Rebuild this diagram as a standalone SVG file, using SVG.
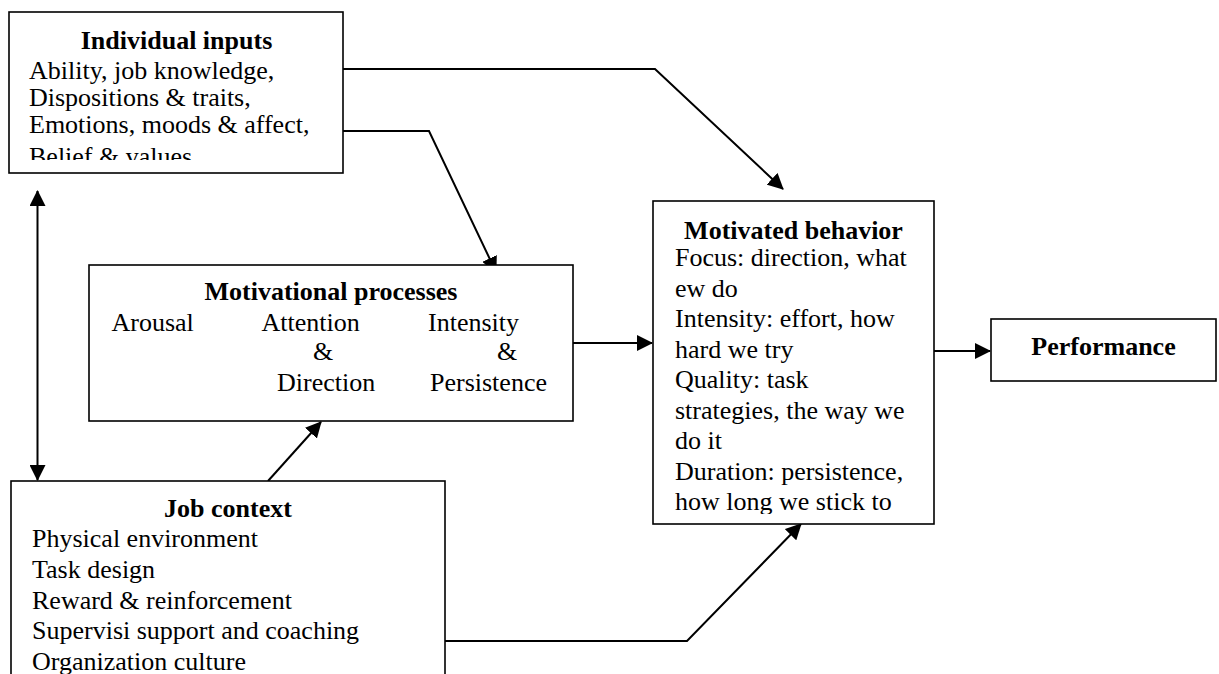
<svg xmlns="http://www.w3.org/2000/svg" width="1219" height="674" viewBox="0 0 1219 674">
<style>
.box{fill:#fff;stroke:#000;stroke-width:1.6}
.t{font-family:"Liberation Serif","Times New Roman",serif;font-size:26px;fill:#000}
.b{font-weight:bold}
.c{text-anchor:middle}
.ln{fill:none;stroke:#000;stroke-width:2}
</style>
<defs>
<marker id="ah" markerUnits="userSpaceOnUse" markerWidth="16" markerHeight="16" refX="15" refY="8" orient="auto-start-reverse" viewBox="0 0 16 16">
<path d="M0,0 L16,8 L0,16 z" fill="#000"/>
</marker>
<clipPath id="c1"><rect x="10" y="13" width="332" height="147"/></clipPath>
<clipPath id="c3"><rect x="654" y="202" width="279" height="312"/></clipPath>
</defs>
<rect width="1219" height="674" fill="#fff"/>
<g id="connectors">
<polyline class="ln" points="343,69 655,69 783,189" marker-end="url(#ah)"/>
<polyline class="ln" points="343,131 429,131 496,272" marker-end="url(#ah)"/>
<line class="ln" x1="573" y1="343" x2="652" y2="343" marker-end="url(#ah)"/>
<line class="ln" x1="934" y1="351" x2="990" y2="351" marker-end="url(#ah)"/>
<line class="ln" x1="37.5" y1="191" x2="37.5" y2="480" marker-start="url(#ah)" marker-end="url(#ah)"/>
<line class="ln" x1="268" y1="481" x2="321" y2="422" marker-end="url(#ah)"/>
<polyline class="ln" points="445,641 687,641 801,524" marker-end="url(#ah)"/>
</g>
<g id="individual-inputs">
<rect class="box" x="9" y="12" width="334" height="161"/>
<text class="t b c" x="176.5" y="48.5">Individual inputs</text>
<g clip-path="url(#c1)">
<text class="t" x="29" y="79">Ability, job knowledge,</text>
<text class="t" x="29" y="106">Dispositions &amp; traits,</text>
<text class="t" x="29" y="133">Emotions, moods &amp; affect,</text>
<text class="t" x="29" y="165">Belief &amp; values</text>
</g>
</g>
<g id="motivational-processes">
<rect class="box" x="89" y="265" width="484" height="156"/>
<text class="t b c" x="331" y="300">Motivational processes</text>
<text class="t" x="111.5" y="330.5">Arousal</text>
<text class="t" x="261.5" y="330.5">Attention</text>
<text class="t" x="428" y="330.5">Intensity</text>
<text class="t" x="313" y="360">&amp;</text>
<text class="t" x="497" y="360">&amp;</text>
<text class="t" x="277" y="391">Direction</text>
<text class="t" x="430" y="391">Persistence</text>
</g>
<g id="motivated-behavior">
<rect class="box" x="653" y="201" width="281" height="323"/>
<text class="t b c" x="793.5" y="238.5">Motivated behavior</text>
<g clip-path="url(#c3)">
<text class="t" x="675" y="266">Focus: direction, what</text>
<text class="t" x="675" y="296.5">ew do</text>
<text class="t" x="675" y="327">Intensity: effort, how</text>
<text class="t" x="675" y="357.5">hard we try</text>
<text class="t" x="675" y="388">Quality: task</text>
<text class="t" x="675" y="418.5">strategies, the way we</text>
<text class="t" x="675" y="449">do it</text>
<text class="t" x="675" y="479.5">Duration: persistence,</text>
<text class="t" x="675" y="510">how long we stick to</text>
</g>
</g>
<g id="performance">
<rect class="box" x="991" y="319" width="225" height="62"/>
<text class="t b c" x="1103.5" y="354.5">Performance</text>
</g>
<g id="job-context">
<rect class="box" x="11" y="481" width="434" height="220"/>
<text class="t b c" x="228" y="517">Job context</text>
<text class="t" x="32" y="547">Physical environment</text>
<text class="t" x="32" y="577.5">Task design</text>
<text class="t" x="32" y="608.5">Reward &amp; reinforcement</text>
<text class="t" x="32" y="639">Supervisi support and coaching</text>
<text class="t" x="32" y="670">Organization culture</text>
</g>
</svg>
